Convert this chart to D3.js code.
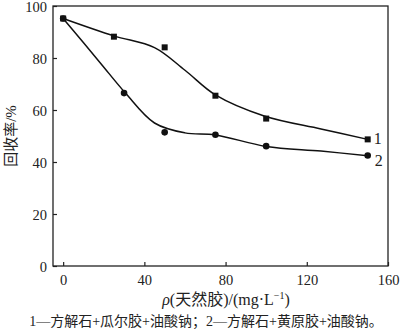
<!DOCTYPE html>
<html><head><meta charset="utf-8">
<script src="https://cdn.jsdelivr.net/npm/d3@7"></script>
<style>body{margin:0;background:#fff}svg{display:block}</style>
</head><body>
<script>
// Data
const xTicks = [0, 40, 80, 120, 160];
const yTicks = [0, 20, 40, 60, 80, 100];
const s1X = [0, 25, 50, 75, 100, 150];
const s1Y = [95.2, 88.2, 84.1, 65.5, 56.7, 48.7];
const s2X = [0, 30, 50, 75, 100, 150];
const s2Y = [95.2, 66.5, 51.4, 50.5, 46.1, 42.5];
// fitted curves
const fit1X = [0, 25, 45, 60, 75, 99, 127, 150];
const fit1Y = [95.2, 88.5, 84.0, 75.3, 65.8, 57.7, 52.7, 48.7];
const fit2X = [0, 18, 30.6, 45, 60, 75, 100, 127, 150];
const fit2Y = [95.2, 78.4, 66.6, 55.0, 51.2, 50.4, 46.0, 44.2, 42.4];
const seriesLabels = ["1", "2"];
const xTitle = "(天然胶)/(mg·L";
const yTitle = "回收率/%";
const caption = "1—方解石+瓜尔胶+油酸钠；2—方解石+黄原胶+油酸钠。";

const W = 400, H = 336;
const m = {l: 53, r: 388, t: 6, b: 266};
const svg = d3.select("body").append("svg").attr("width", W).attr("height", H);
const x = d3.scaleLinear().domain([-5, 160]).range([m.l, m.r]);
const y = d3.scaleLinear().domain([0, 100]).range([m.b, m.t]);
const serif = "'Liberation Serif','Times New Roman',serif";
const cjk = "'Liberation Serif','Noto Sans CJK SC',serif";

// frame
svg.append("rect").attr("x", m.l).attr("y", m.t).attr("width", m.r - m.l).attr("height", m.b - m.t)
  .attr("fill", "none").attr("stroke", "#222").attr("stroke-width", 1.3);

const xa = svg.append("g").attr("transform", `translate(0,${m.b})`)
  .call(d3.axisBottom(x).tickValues(xTicks).tickSizeInner(-4).tickSizeOuter(0).tickPadding(9));
const ya = svg.append("g").attr("transform", `translate(${m.l},0)`)
  .call(d3.axisLeft(y).tickValues(yTicks).tickSizeInner(-4).tickSizeOuter(0).tickPadding(6));
[xa, ya].forEach(a => {
  a.select(".domain").remove();
  a.selectAll("line").attr("stroke", "#222").attr("stroke-width", 1.2);
  a.selectAll("text").attr("font-family", serif).attr("font-size", 14.5).attr("fill", "#222");
});
xa.selectAll("text").attr("dy", "0.71em");
ya.selectAll("text").attr("dy", "0.36em");

const line = d3.line().x(d => x(d[0])).y(d => y(d[1])).curve(d3.curveCatmullRom.alpha(0.5));
svg.append("path").datum(d3.zip(fit1X, fit1Y)).attr("d", line)
  .attr("fill", "none").attr("stroke", "#111").attr("stroke-width", 1.5);
svg.append("path").datum(d3.zip(fit2X, fit2Y)).attr("d", line)
  .attr("fill", "none").attr("stroke", "#111").attr("stroke-width", 1.5);

svg.append("g").selectAll("rect").data(d3.zip(s1X, s1Y)).join("rect")
  .attr("x", d => x(d[0]) - 3).attr("y", d => y(d[1]) - 3).attr("width", 6).attr("height", 6).attr("fill", "#111");
svg.append("g").selectAll("circle").data(d3.zip(s2X, s2Y)).join("circle")
  .attr("cx", d => x(d[0])).attr("cy", d => y(d[1])).attr("r", 3.3).attr("fill", "#111");

// series labels
svg.append("text").attr("x", x(s1X[5]) + 6).attr("y", y(s1Y[5]) + 5).text(seriesLabels[0])
  .attr("font-family", serif).attr("font-size", 16).attr("fill", "#222");
svg.append("text").attr("x", x(s2X[5]) + 7).attr("y", y(s2Y[5]) + 10).text(seriesLabels[1])
  .attr("font-family", serif).attr("font-size", 16).attr("fill", "#222");

// x title
const xt = svg.append("text").attr("x", 226).attr("y", 305).attr("text-anchor", "middle")
  .attr("font-family", cjk).attr("font-size", 16).attr("fill", "#222");
xt.append("tspan").attr("font-style", "italic").text("ρ");
xt.append("tspan").text(xTitle);
xt.append("tspan").attr("font-size", 10).attr("dy", -6).text("−1");
xt.append("tspan").attr("dy", 6).text(")");

// y title
svg.append("text").attr("transform", `translate(16,${(m.t + m.b) / 2}) rotate(-90)`)
  .attr("text-anchor", "middle").attr("font-family", cjk).attr("font-size", 15).attr("fill", "#222").text(yTitle);

// caption
svg.append("text").attr("x", 206).attr("y", 326).attr("text-anchor", "middle")
  .attr("font-family", cjk).attr("font-size", 14).attr("fill", "#222").text(caption);
</script>
</body></html>
